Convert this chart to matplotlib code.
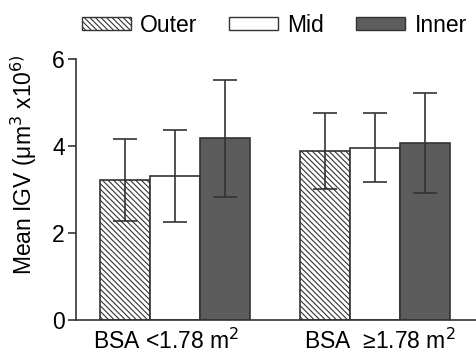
import matplotlib
matplotlib.use("Agg")
import matplotlib.pyplot as plt
import matplotlib.transforms as mtransforms
import numpy as np
from matplotlib.patches import Patch

plt.rcParams['font.family'] = ['Liberation Sans', 'DejaVu Sans']
plt.rcParams['hatch.color'] = '#555555'
plt.rcParams['hatch.linewidth'] = 0.8

groups = ['BSA <1.78 m$^2$', 'BSA  ≥1.78 m$^2$']
series = ['Outer', 'Mid', 'Inner']
outer = [3.22, 3.89]
mid = [3.31, 3.96]
inner = [4.18, 4.07]
outer_err = [0.94, 0.87]
mid_err = [1.06, 0.79]
inner_err = [1.35, 1.14]

fs = 16.5
fig = plt.figure(figsize=(4.76, 3.54), dpi=100)
ax = fig.add_axes([0.1597, 0.096, 0.8403, 0.737])

x = np.arange(len(groups))
w = 0.25
edge = '#333333'
styles = [dict(facecolor='white', hatch='\\\\\\\\\\\\'), dict(facecolor='white'), dict(facecolor='#5c5c5c')]
vals = [outer, mid, inner]
errs = [outer_err, mid_err, inner_err]
for i, (v, e, st, name) in enumerate(zip(vals, errs, styles, series)):
    ax.bar(x + (i - 1) * w, v, w, edgecolor=edge, linewidth=1.2, label=name, zorder=2, **st)
    ax.errorbar(x + (i - 1) * w, v, yerr=e, fmt='none', ecolor='#333333', elinewidth=1.2,
                capsize=8.5, capthick=1.2, zorder=3)

ax.set_xlim(-0.495, 1.505)
ax.set_ylim(0, 6)
ax.set_yticks([0, 2, 4, 6])
ax.set_xticks(x)
ax.set_xticklabels(groups, fontsize=fs)
ax.tick_params(axis='x', length=0, pad=6)
ax.tick_params(axis='y', labelsize=fs, length=6, width=1.2, color='#333333', pad=2)
offsets = [-9, 5]
for lab, dx in zip(ax.get_xticklabels(), offsets):
    lab.set_transform(lab.get_transform() + mtransforms.ScaledTranslation(dx / 100, 0, fig.dpi_scale_trans))
for s in ['top', 'right']:
    ax.spines[s].set_visible(False)
for s in ['left', 'bottom']:
    ax.spines[s].set_linewidth(1.2)
    ax.spines[s].set_color('#333333')
ax.set_ylabel('Mean IGV (μm$^3$ x10$^{6)}$', fontsize=fs)
ax.yaxis.set_label_coords(-0.093, 0.594)

handles = [Patch(edgecolor=edge, linewidth=1.0, label=n, **st) for n, st in zip(series, styles)]
fig.legend(handles=handles, loc='center', bbox_to_anchor=(0.576, 0.928), ncol=3, frameon=False,
           fontsize=fs, handlelength=2.14, handleheight=0.5, handletextpad=0.4, columnspacing=1.4)

fig.savefig('out.png', dpi=100)
